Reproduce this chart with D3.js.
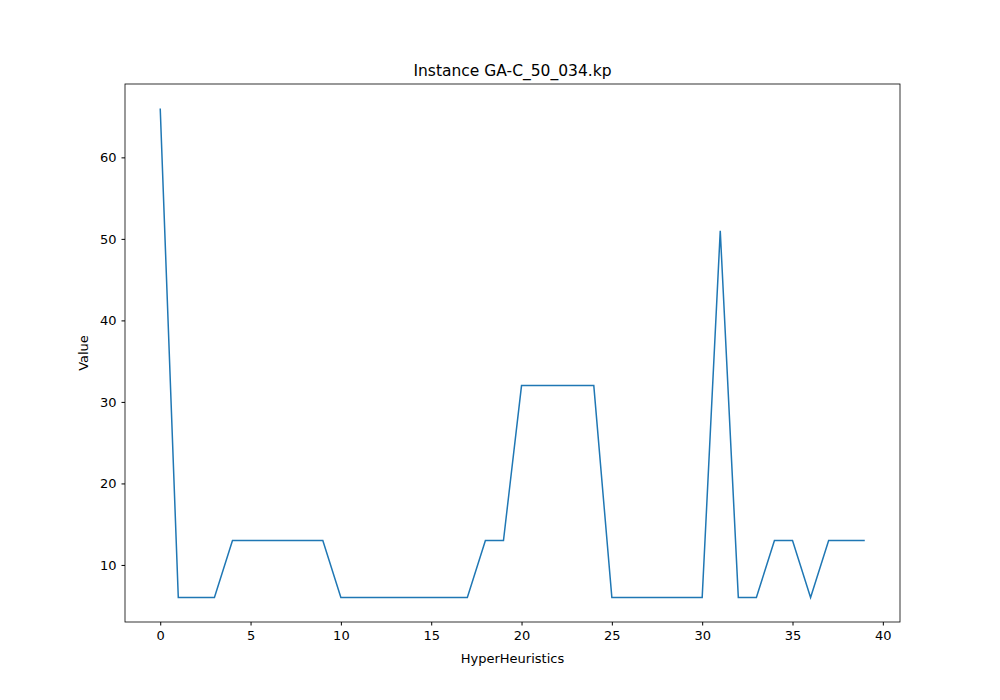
<!DOCTYPE html>
<html><head><meta charset="utf-8">
<script src="https://cdn.jsdelivr.net/npm/d3@7"></script>
<style>body{margin:0;background:#fff}text{font-family:"DejaVu Sans",sans-serif}</style>
</head><body><div id="chart"></div>
<script>
// Data
const title = "Instance GA-C_50_034.kp";
const xLabel = "HyperHeuristics", yLabel = "Value";
const values = [66,6,6,6,13,13,13,13,13,13,6,6,6,6,6,6,6,6,13,13,
  32,32,32,32,32,6,6,6,6,6,6,51,6,6,13,13,6,13,13,13];
const xTicks = [0,5,10,15,20,25,30,35,40];
const yTicks = [10,20,30,40,50,60];

const width = 1000, height = 700,
  margin = {left: 125, right: 100, top: 84, bottom: 78};

const svg = d3.select("#chart").append("svg")
  .attr("width", width).attr("height", height);

const x = d3.scaleLinear().domain([-1.95, 40.95]).range([margin.left, width - margin.right]);
const y = d3.scaleLinear().domain([3, 69]).range([height - margin.bottom, margin.top]);

const xAxis = svg.append("g")
  .attr("transform", "translate(0," + (height - margin.bottom) + ")")
  .call(d3.axisBottom(x).tickValues(xTicks).tickSize(3.5).tickPadding(5));
const yAxis = svg.append("g")
  .attr("transform", "translate(" + margin.left + ",0)")
  .call(d3.axisLeft(y).tickValues(yTicks).tickSize(3.5).tickPadding(5));
[xAxis, yAxis].forEach(a => {
  a.select(".domain").remove();
  a.selectAll("text").attr("font-size", 13).attr("fill", "#000").style("font-family", "DejaVu Sans");
  a.selectAll("line").attr("stroke", "#000");
});

svg.append("rect")
  .attr("x", margin.left).attr("y", margin.top)
  .attr("width", width - margin.left - margin.right)
  .attr("height", height - margin.top - margin.bottom)
  .attr("fill", "none").attr("stroke", "#000").attr("stroke-width", 0.8);

svg.append("path")
  .datum(values)
  .attr("fill", "none").attr("stroke", "#1f77b4").attr("stroke-width", 1.5)
  .attr("d", d3.line().x((d, i) => x(i)).y(d => y(d)));

svg.append("text").attr("x", (margin.left + width - margin.right) / 2).attr("y", 76)
  .attr("text-anchor", "middle").attr("font-size", 15.5).text(title);
svg.append("text").attr("x", (margin.left + width - margin.right) / 2).attr("y", 663)
  .attr("text-anchor", "middle").attr("font-size", 13).text(xLabel);
svg.append("text").attr("transform", "translate(88," + ((margin.top + height - margin.bottom) / 2) + ") rotate(-90)")
  .attr("text-anchor", "middle").attr("font-size", 13).text(yLabel);
</script></body></html>
